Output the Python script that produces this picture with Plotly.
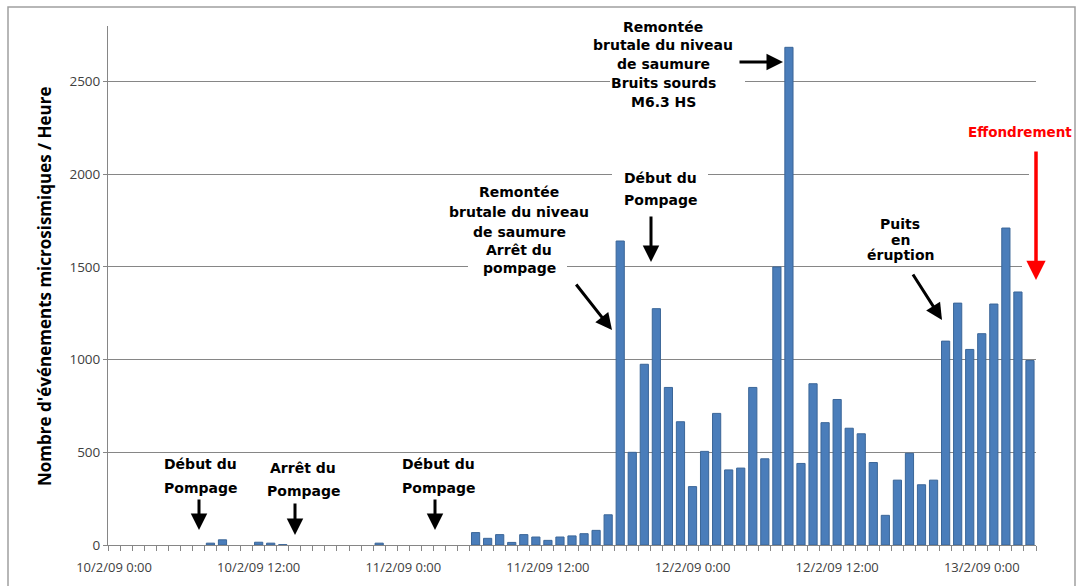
import plotly.graph_objects as go

# ---- data ----
hours = list(range(77))  # hourly bins from 10/2/09 0:00
counts = [0, 0, 0, 0, 0, 0, 0, 0, 10, 28,
          0, 0, 15, 10, 2, 0, 0, 0, 0, 0,
          0, 0, 10, 0, 0, 0, 0, 0, 0, 0,
          67, 36, 56, 14, 56, 43, 25, 43, 49, 61,
          79, 163, 1640, 500, 975, 1275, 850, 665, 315, 505,
          710, 405, 415, 850, 465, 1500, 2685, 440, 870, 660,
          785, 630, 600, 445, 160, 350, 495, 325, 350, 1100,
          1305, 1055, 1140, 1300, 1710, 1365, 995]
tick_pos = [0, 12, 24, 36, 48, 60, 72]
tick_labels = ["10/2/09 0:00", "10/2/09 12:00", "11/2/09 0:00", "11/2/09 12:00",
               "12/2/09 0:00", "12/2/09 12:00", "13/2/09 0:00"]
y_ticks = [0, 500, 1000, 1500, 2000, 2500]

W, H = 1078, 586
ML, MR, MT, MB = 108, 42, 26, 41
YMAX = 2800
XMIN, XMAX = -0.5, 76.5
pw = W - ML - MR
ph = H - MT - MB


def xd(px):
    return XMIN + (px - ML) / pw * (XMAX - XMIN)


def yd(py):
    return (H - MB - py) / ph * YMAX


fig = go.Figure()
fig.add_trace(go.Bar(
    x=hours, y=counts,
    marker=dict(color="#4a7dba",
                line=dict(color="#3b6698", width=[1 if v > 0 else 0 for v in counts])),
    hoverinfo="x+y",
))

ann_font = dict(family="DejaVu Sans", size=14, color="black", weight="bold")
anns = []
shapes = []


def text_line(txt, px, py, font=None):
    anns.append(dict(x=xd(px), y=yd(py), xref="x", yref="y", text=txt, showarrow=False,
                     font=font or ann_font, xanchor="center", yanchor="middle"))


def arrow(tx, ty, hx, hy, color="black", width=3, size=1.1):
    anns.append(dict(x=xd(hx), y=yd(hy), ax=xd(tx), ay=yd(ty),
                     xref="x", yref="y", axref="x", ayref="y", text="",
                     showarrow=True, arrowhead=2, arrowsize=size,
                     arrowwidth=width, arrowcolor=color))


def white_box(x0, x1, y0, y1):
    shapes.append(dict(type="rect", xref="x", yref="y",
                       x0=xd(x0), x1=xd(x1), y0=yd(y1), y1=yd(y0),
                       fillcolor="white", line=dict(width=0), layer="between"))


# Début du Pompage (1)
text_line("Début du", 200, 464)
text_line("Pompage", 200, 488)
arrow(199, 498, 199, 530)
# Arrêt du Pompage
text_line("Arrêt du", 303, 468)
text_line("Pompage", 303, 491)
arrow(295, 502, 295, 535)
# Début du Pompage (2)
text_line("Début du", 438, 464)
text_line("Pompage", 438, 488)
arrow(435, 498, 435, 530)
# Remontée ... Arrêt du pompage
for t, py in zip(["Remontée", "brutale du niveau", "de saumure", "Arrêt du", "pompage"],
                 [192, 212, 232, 250, 268]):
    text_line(t, 519, py)
white_box(468, 567, 262, 274)
arrow(575, 283, 612, 330)
# Début du Pompage (3)
text_line("Début du", 660, 178)
text_line("Pompage", 660, 200)
white_box(612, 708, 168, 180)
arrow(651, 215, 651, 262)
# Top annotation
for t, py in zip(["Remontée", "brutale du niveau", "de saumure", "Bruits sourds", "M6.3 HS"],
                 [27, 45, 64, 83, 102]):
    text_line(t, 663, py)
white_box(610, 745, 76, 88)
arrow(738, 62, 783, 62)
# Puits en éruption
text_line("Puits", 900, 224)
text_line("en", 900, 240)
text_line("éruption", 900, 255)
arrow(912, 273, 942, 320)
# Effondrement
text_line("Effondrement", 1020, 132,
          font=dict(family="DejaVu Sans", size=13.5, color="#ff0000", weight="bold"))
white_box(1029, 1046, 168, 180)
white_box(1022, 1046, 262, 274)
arrow(1036, 150, 1036, 280, color="#ff0000", width=3.5)

# y-axis title
anns.append(dict(x=(44 - ML) / pw, y=(H - MB - 286) / ph, xref="paper", yref="paper",
                 text="Nombre d'événements microsismiques / Heure", textangle=-90,
                 showarrow=False, xanchor="center", yanchor="middle",
                 font=dict(family="Open Sans", size=17, color="black", weight="bold")))

# outer chart border
shapes.append(dict(type="rect", xref="paper", yref="paper",
                   x0=(8 - ML) / pw, x1=(1075 - ML) / pw,
                   y0=(H - MB - 600) / ph, y1=(H - MB - 7) / ph,
                   line=dict(color="#a0a0a0", width=1.5), fillcolor="rgba(0,0,0,0)",
                   layer="below"))

fig.update_layout(
    width=W, height=H,
    margin=dict(l=ML, r=MR, t=MT, b=MB, autoexpand=False),
    paper_bgcolor="white", plot_bgcolor="white",
    showlegend=False, bargap=0.32,
    annotations=anns, shapes=shapes,
    font=dict(family="Open Sans", size=12, color="#404040"),
)
fig.update_xaxes(
    range=[XMIN, XMAX], tickmode="array", tickvals=tick_pos, ticktext=tick_labels,
    ticks="", showgrid=False, zeroline=False, showline=True, automargin=False,
    linecolor="#868686", linewidth=1, ticklabelstandoff=10,
    tickfont=dict(family="Open Sans", size=13, color="#404040"),
    minor=dict(ticks="outside", tick0=-0.5, dtick=1, ticklen=5,
               tickcolor="#868686", tickwidth=1, showgrid=False),
)
fig.update_yaxes(
    range=[0, YMAX], tickmode="array", tickvals=y_ticks, automargin=False,
    ticks="outside", ticklen=4, tickcolor="#868686",
    showgrid=True, gridcolor="#868686", gridwidth=1, zeroline=False,
    showline=True, linecolor="#868686", linewidth=1,
    tickfont=dict(family="Open Sans", size=13.5, color="#404040"),
)

fig.write_html("out.html", config={"displayModeBar": False},
               post_script="document.body.style.margin='0';document.body.style.overflow='hidden';")
